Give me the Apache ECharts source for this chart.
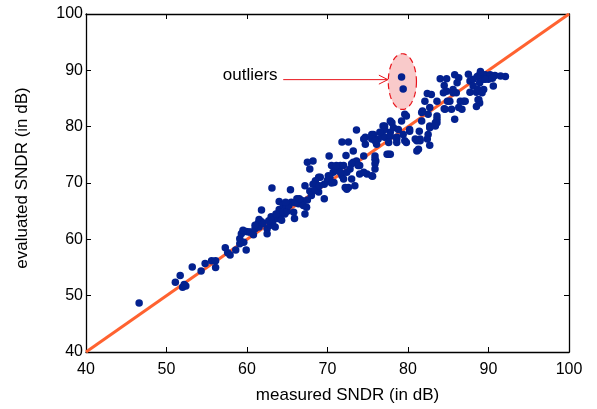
<!DOCTYPE html>
<html>
<head>
<meta charset="utf-8">
<script src="https://cdn.jsdelivr.net/npm/echarts@6/dist/echarts.min.js"></script>
<style>html,body{margin:0;padding:0;background:#fff}#c{width:597px;height:409px}</style>
</head>
<body>
<div id="c"></div>
<script>
// Axis ticks
const xTicks = [40, 50, 60, 70, 80, 90, 100];
const yTicks = [40, 50, 60, 70, 80, 90, 100];

// Measured vs evaluated SNDR (dB)
const samples = [
[46.6,48.7],[51.1,52.4],[51.7,53.6],[52.0,51.5],[52.4,51.7],[52.2,52.0],[53.2,55.1],[54.3,54.4],[54.8,55.7],[55.6,56.2],[56.1,56.2],[56.1,55.0],[57.3,58.5],[57.6,57.6],[57.9,57.2],[58.6,58.1],[59.9,58.1],[59.1,60.1],[59.3,61.0],[59.6,59.5],[59.9,61.4],[59.1,59.2],[59.5,61.6],[60.2,61.3],[60.4,61.3],[60.8,60.8],[61.0,61.9],[61.4,62.9],[61.5,62.2],[61.8,63.1],[61.5,63.5],[62.5,61.9],[62.5,61.0],[62.9,62.5],[63.2,63.1],[63.5,62.2],[63.8,63.7],[64.1,64.2],[64.3,63.4],[64.0,65.3],[61.8,65.2],[63.1,69.1],[64.0,66.7],[64.5,66.1],[64.9,65.7],[65.5,66.6],[65.9,63.7],[65.4,68.8],[66.2,67.2],[66.4,66.3],[66.8,66.9],[67.0,66.0],[67.2,64.5],[67.4,65.7],[67.2,69.5],[67.8,68.6],[67.8,72.5],[68.2,73.9],[67.5,73.7],[68.6,69.5],[68.9,71.0],[68.9,68.4],[69.6,69.8],[69.6,67.2],[70.1,71.3],[70.5,73.1],[70.2,74.8],[70.7,71.9],[70.8,70.1],[71.1,72.2],[71.6,73.1],[71.8,71.3],[72.0,70.7],[72.4,68.9],[72.6,69.2],[73.0,70.7],[73.4,69.5],[72.3,74.9],[71.8,77.3],[72.6,77.3],[73.2,75.7],[73.2,73.7],[73.6,73.9],[74.0,73.1],[74.5,74.8],[73.6,79.4],[74.7,78.1],[74.7,76.9],[75.7,78.6],[75.9,74.8],[76.0,73.9],[75.9,72.5],[74.9,71.6],[75.6,71.2],[74.0,71.6],[77.4,75.1],[77.8,75.1],[77.1,78.1],[76.9,80.1],[77.8,79.0],[78.0,80.7],[78.6,77.8],[79.4,78.6],[79.6,77.5],[80.2,79.2],[81.4,79.2],[81.1,75.7],[81.5,77.5],[82.5,78.6],[82.7,76.7],[82.7,80.1],[83.6,80.7],
[84.0,88.5],[84.8,88.5],[85.8,89.2],[86.1,87.8],[84.5,87.3],[84.8,86.3],[85.6,86.6],[86.0,86.0],[82.4,85.9],[82.1,84.5],[83.6,84.5],[84.5,83.2],[85.2,84.5],[85.4,83.1],[85.8,81.3],[86.5,84.5],[87.1,84.5],[86.3,83.4],[86.7,83.1],[87.7,88.1],[88.1,87.2],[87.7,86.1],[88.5,86.1],[88.6,88.9],[88.9,89.2],[89.6,89.2],[90.2,89.2],[90.8,89.1],[92.1,88.9],[88.9,87.8],[89.4,88.4],[90.0,88.4],[90.6,87.2],[89.4,86.6],[88.8,84.8],[88.9,84.2],[88.5,83.6],[81.8,82.8],[82.7,83.4],[82.5,82.2],[81.7,81.0],[83.6,81.3],[83.6,81.9],[83.4,80.7],[82.7,79.8],[79.8,81.9],[79.2,81.0],[77.8,81.0],[77.1,80.1],[78.2,79.8],[78.8,79.5],[80.2,79.5],[78.6,78.1],[77.8,78.3],[76.9,78.3],[76.3,77.8],[75.5,78.6],[81.5,77.8],[81.3,76.0],[82.4,77.8],[81.1,77.5],[77.6,75.1],
[84.4,86.0],[85.6,86.0],[82.9,85.7],[84.9,84.5],[86.9,84.5],[84.6,83.1],[83.4,80.1],[88.1,88.4],[88.7,86.6],[89.2,86.0],[88.7,84.8],[89.6,88.4],[91.5,89.0],[90.5,88.6],[89.0,89.8],[87.5,89.3],[86.3,88.7],
[74.5,77.8],[75.5,77.8],[76.1,76.9],[75.9,74.2],[71.1,73.1],[72.0,73.1],[73.0,73.4],[73.8,73.1],[74.5,71.9],[75.5,71.3],[72.8,72.5],[72.4,71.9],[71.6,71.9],[70.3,71.0],[69.1,71.0],[68.5,70.4],[68.2,69.8],[72.2,69.2],[81.7,82.5],[79.6,82.2],[77.1,79.5],[76.5,79.0],[75.9,77.5],[80.9,77.8],[79.8,77.2],[78.6,77.2],[77.6,77.2],[75.9,73.4],
[64.0,64.8],[64.7,64.5],[65.8,64.8],[61.0,62.5],[62.0,62.8],[62.7,63.3],[63.0,64.0],[63.6,64.5],[64.5,64.9],[65.0,65.0],[65.2,66.0],[66.0,66.5],[64.8,66.6],[66.5,67.2],[67.5,67.0],[68.0,67.8],[68.5,68.7],[69.0,69.5],[70.0,70.5],[70.5,70.0]
];
const outlierPoints = [[79.2,88.8],[79.4,86.7]];

// Ideal y = x reference line
const idealLine = [[40,40],[100,100]];

// Annotation: ellipse [cx, cy, rx, ry] in data units, arrow and label
const outlierEllipse = [[79.3, 88.0, 1.75, 4.95]];
const arrowFromTo = [[64.5, 88.35, 77.5, 88.35]];
const labelText = 'outliers';
const labelAt = [60.4, 89.1];

const FONT = 'Liberation Sans, Arial, sans-serif';
const chart = echarts.init(document.getElementById('c'), null, {renderer: 'canvas'});

function axisCommon(show) {
  return {
    type: 'value', min: 40, max: 100, interval: 10,
    axisLine: {show: true, onZero: false, lineStyle: {color: '#000', width: 1.3}},
    axisTick: {show: true, inside: true, length: 5, lineStyle: {color: '#000', width: 1}},
    splitLine: {show: false},
    axisLabel: show ? {show: true, color: '#000', fontSize: 16, fontFamily: FONT} : {show: false}
  };
}

chart.setOption({
  animation: false,
  backgroundColor: '#fff',
  grid: {left: 86, right: 28, top: 14, bottom: 55, containLabel: false},
  xAxis: [
    Object.assign(axisCommon(true), {position: 'bottom', name: 'measured SNDR (in dB)', nameLocation: 'middle', nameGap: 35,
      nameTextStyle: {color: '#000', fontSize: 17, fontFamily: FONT, padding: [0, 0, 0, 40]},
      axisLabel: {color: '#000', fontSize: 16, fontFamily: FONT, margin: 10}}),
    Object.assign(axisCommon(false), {position: 'top'})
  ],
  yAxis: [
    Object.assign(axisCommon(true), {position: 'left', name: 'evaluated SNDR (in dB)', nameLocation: 'middle', nameGap: 55,
      nameTextStyle: {color: '#000', fontSize: 17, fontFamily: FONT, padding: [0, 0, 0, 10]},
      axisLabel: {color: '#000', fontSize: 16, fontFamily: FONT, margin: 3}}),
    Object.assign(axisCommon(false), {position: 'right'})
  ],
  series: [
    {
      type: 'custom', z: 1, silent: true,
      data: outlierEllipse,
      renderItem: function (params, api) {
        const c = api.coord([api.value(0), api.value(1)]);
        const s = api.size([api.value(2), api.value(3)]);
        const pts = [];
        for (let i = 0; i <= 90; i++) {
          const a = i / 90 * Math.PI * 2;
          pts.push([c[0] + s[0] * Math.cos(a), c[1] + s[1] * Math.sin(a)]);
        }
        return {type: 'polygon', shape: {points: pts},
          style: {fill: '#f9caca', stroke: '#e8141b', lineWidth: 1.2, lineDash: [6, 4]}};
      }
    },
    {
      type: 'line', z: 2, data: idealLine, symbol: 'none', silent: true,
      lineStyle: {color: '#ff6230', width: 3}
    },
    {
      type: 'scatter', z: 3, data: samples, symbol: 'circle', symbolSize: 7.5,
      itemStyle: {color: '#03218f', opacity: 1}
    },
    {
      type: 'scatter', z: 3, data: outlierPoints, symbol: 'circle', symbolSize: 7.5,
      itemStyle: {color: '#03218f', opacity: 1}
    },
    {
      type: 'custom', z: 4, silent: true,
      data: arrowFromTo,
      renderItem: function (params, api) {
        const p0 = api.coord([api.value(0), api.value(1)]);
        const p1 = api.coord([api.value(2), api.value(3)]);
        const lp = api.coord(labelAt);
        return {type: 'group', children: [
          {type: 'line', shape: {x1: p0[0], y1: p0[1], x2: p1[0], y2: p1[1]}, style: {stroke: '#e8141b', lineWidth: 1}},
          {type: 'polyline', shape: {points: [[p1[0] - 9, p1[1] - 4.5], [p1[0], p1[1]], [p1[0] - 9, p1[1] + 4.5]]}, style: {stroke: '#e8141b', lineWidth: 1, fill: null}},
          {type: 'text', style: {text: labelText, x: lp[0], y: lp[1], fill: '#000', font: '17px ' + FONT, align: 'center', verticalAlign: 'middle'}}
        ]};
      }
    }
  ]
});
</script>
</body>
</html>
